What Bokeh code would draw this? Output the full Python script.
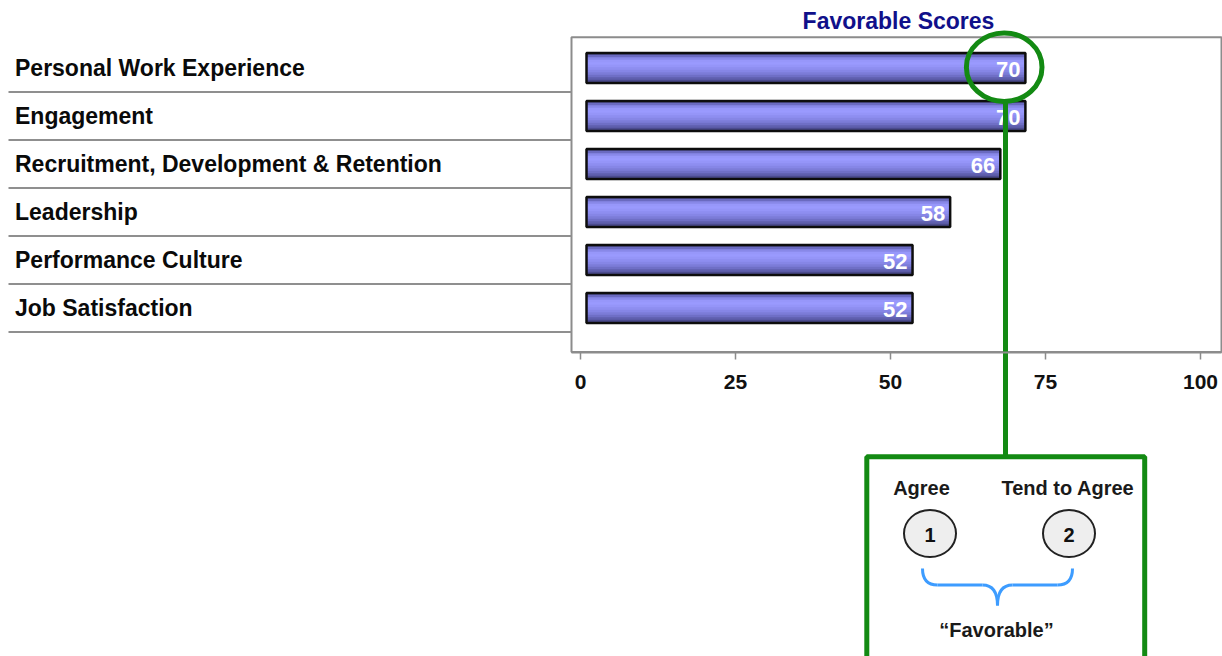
from bokeh.plotting import figure
from bokeh.models import Range1d, FixedTicker, ColumnDataSource
from bokeh.core.properties import value
from bokeh.embed import file_html
from bokeh.resources import INLINE

# ---------------- data ----------------
categories = ["Personal Work Experience", "Engagement",
              "Recruitment, Development & Retention", "Leadership",
              "Performance Culture", "Job Satisfaction"]
scores = [70, 70, 66, 58, 52, 52]
tick_values = [0, 25, 50, 75, 100]
title_text = "Favorable Scores"
callout_labels = ["Agree", "Tend to Agree"]
callout_numbers = ["1", "2"]
callout_caption = "\u201cFavorable\u201d"

# ---------------- geometry helpers (page pixels -> data) ----------------
W, H = 1222, 656
ORG = 0                    # page position of the canvas origin
AX0, AXK = 580.0, 6.2      # axis: page x of value 0, px per unit
BX0, BXK = 586.0, 6.27     # bars' own (secondary) scale
ROW0, ROWK = 67.5, 48.0    # first row centre, px per row


def dx(px):
    return (px - AX0) / AXK


def dy(py):
    return (py - ROW0) / ROWK


FONT = value("Liberation Sans")
GREEN = "#138a13"
GRAY = "#8c8c8c"

p = figure(width=W, height=H, output_backend="svg", toolbar_location=None,
           x_range=Range1d(dx(ORG), dx(ORG + W)), y_range=Range1d(dy(ORG + H), dy(ORG)),
           y_axis_location=None, min_border=0, outline_line_color=None,
           title=None, background_fill_color="white", border_fill_color="white")
p.extra_x_ranges = {"bars": Range1d((ORG - BX0) / BXK, (ORG + W - BX0) / BXK)}
p.grid.visible = False

# ---------------- x axis ----------------
ax = p.xaxis[0]
ax.fixed_location = dy(351.5)
ax.bounds = (dx(571), dx(1221))
ax.ticker = FixedTicker(ticks=tick_values)
ax.minor_tick_line_color = None
ax.major_tick_in = 0
ax.major_tick_out = 7
ax.major_tick_line_color = GRAY
ax.major_tick_line_width = 1.5
ax.axis_line_color = GRAY
ax.axis_line_width = 2
ax.major_label_text_font = "Liberation Sans"
ax.major_label_text_font_style = "bold"
ax.major_label_text_font_size = "21px"
ax.major_label_text_color = "#111111"
ax.major_label_standoff = 16

idx = list(range(len(categories)))

# ---------------- plot frame ----------------
p.quad(left=[dx(571)], right=[dx(1221)], top=[dy(36.8)], bottom=[dy(351.5)],
       fill_color=None, line_color=GRAY, line_width=2)

# ---------------- row separators + labels ----------------
p.segment(x0=[dx(8)] * len(idx), x1=[dx(571)] * len(idx),
          y0=[i + 0.5 for i in idx], y1=[i + 0.5 for i in idx],
          line_color="#8f8f8f", line_width=2)
p.text(x=[dx(14.5)] * len(idx), y=idx, text=categories,
       text_font=FONT, text_font_style="bold", text_font_size="23px",
       text_color="#0a0a0a", text_align="left", text_baseline="middle")

# ---------------- bars (striped gradient) ----------------
bar_h = 30.0 / ROWK
stripe_colors = ["#4c4c8a", "#6a6ac0", "#8888e8", "#9797fa", "#9a9afe", "#9595f8",
                 "#8e8ef0", "#8686e6", "#7c7cd8", "#6f6fc6", "#5f5fae", "#4b4b8e"]
n = len(stripe_colors)
for k, col in enumerate(stripe_colors):
    off = (-0.5 + (k + 0.5) / n) * bar_h
    src = ColumnDataSource(dict(y=[i + off for i in idx], right=scores))
    p.hbar(y="y", left=0, right="right", height=bar_h / n * 1.6, source=src,
           fill_color=col, line_color=None, x_range_name="bars")
p.hbar(y=idx, left=0, right=scores, height=bar_h, fill_color=None,
       line_color="#0d0d0d", line_width=2.5, x_range_name="bars")
p.text(x=scores, y=idx, text=[str(s) for s in scores], x_range_name="bars",
       x_offset=-5, y_offset=1, text_font=FONT, text_font_style="bold",
       text_font_size="22px", text_color="white", text_align="right",
       text_baseline="middle")

# ---------------- title ----------------
p.text(x=[dx(898)], y=[dy(20)], text=[title_text], text_font=FONT,
       text_font_style="bold", text_font_size="23px", text_color="#10108a",
       text_align="center", text_baseline="middle")

# ---------------- green highlight + connector ----------------
p.ellipse(x=[dx(1003.7)], y=[dy(66.7)], width=75.6, height=68.4,
          width_units="screen", height_units="screen",
          fill_color=None, line_color=GREEN, line_width=5)
p.segment(x0=[dx(1005)], x1=[dx(1005)], y0=[dy(102)], y1=[dy(456)],
          line_color=GREEN, line_width=5)
p.quad(left=[dx(866.3)], right=[dx(1144.2)], top=[dy(456.3)], bottom=[dy(720)],
       fill_color="white", line_color=GREEN, line_width=5)

# ---------------- callout content ----------------
p.text(x=[dx(921), dx(1067.5)], y=[dy(487)] * 2, text=callout_labels,
       text_font=FONT, text_font_style="bold", text_font_size="20px",
       text_color="#1a1a1a", text_align="center", text_baseline="middle")
p.ellipse(x=[dx(929.5), dx(1068.5)], y=[dy(533)] * 2, width=52, height=47,
          width_units="screen", height_units="screen",
          fill_color="#eeeeee", line_color="#222222", line_width=2)
p.text(x=[dx(929.5), dx(1068.5)], y=[dy(534)] * 2, text=callout_numbers,
       text_font=FONT, text_font_style="bold", text_font_size="20px",
       text_color="#111111", text_align="center", text_baseline="middle")

BLUE = "#3d9cff"
yb, yt, ym = dy(584.5), dy(568), dy(605)
p.quadratic(x0=[dx(922), dx(982), dx(997), dx(1057)],
            y0=[yt, yb, ym, yb],
            x1=[dx(937), dx(997), dx(1012), dx(1072)],
            y1=[yb, ym, yb, yt],
            cx=[dx(922), dx(997), dx(997), dx(1072)],
            cy=[yb, yb, yb, yb],
            line_color=BLUE, line_width=3)
p.segment(x0=[dx(937), dx(1012)], x1=[dx(982), dx(1057)], y0=[yb, yb], y1=[yb, yb],
          line_color=BLUE, line_width=3)
p.text(x=[dx(996)], y=[dy(629)], text=[callout_caption], text_font=FONT,
       text_font_style="bold", text_font_size="20px", text_color="#1a1a1a",
       text_align="center", text_baseline="middle")

open("out.html", "w").write(file_html(p, INLINE))
